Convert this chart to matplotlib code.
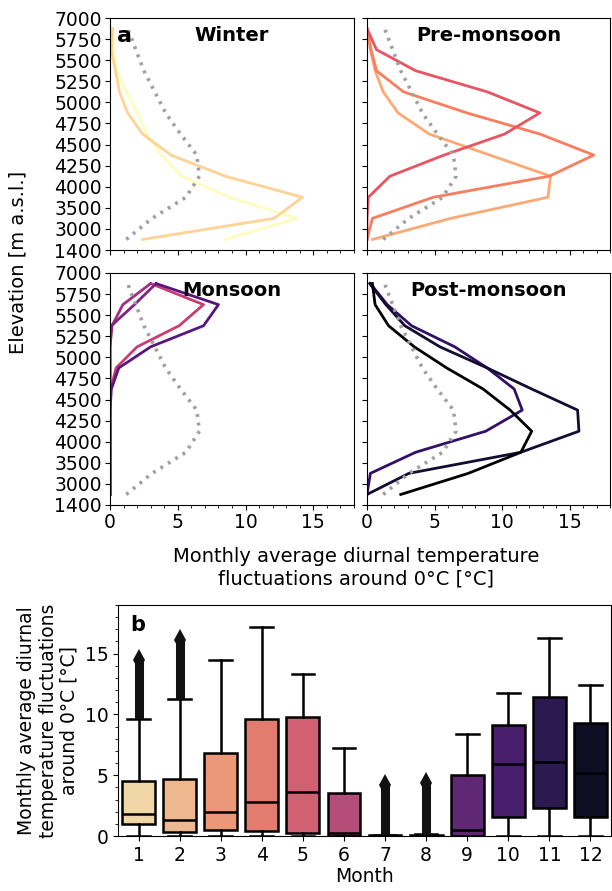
import numpy as np
import matplotlib
matplotlib.use("Agg")
import matplotlib.pyplot as plt
from matplotlib.ticker import MultipleLocator
import seaborn as sns

# elevation bin edges (shown as categorical tick labels)
elev_labels = ["1400", "3000", "3500", "4000", "4250", "4500", "4750",
               "5000", "5250", "5500", "5750", "7000"]

# mean diurnal fluctuation per elevation bin (bottom -> top), all months
all_months = [1.2, 3.1, 5.6, 6.6, 6.4, 5.2, 4.1, 3.3, 2.5, 1.9, 1.3]

# per month, per elevation bin (bottom -> top)
profiles = {
    1: [8.5, 13.8, 8.8, 5.3, 3.8, 2.7, 2.0, 1.2, 0.5, 0.3, 0.2],
    2: [2.4, 12.1, 14.2, 8.5, 4.5, 2.4, 1.3, 0.7, 0.4, 0.1, 0.2],
    3: [0.4, 6.2, 13.4, 13.6, 9.1, 4.6, 2.3, 1.2, 0.6, 0.25, 0.0],
    4: [0.0, 0.4, 4.9, 13.5, 16.8, 12.8, 7.4, 2.7, 0.7, 0.3, 0.0],
    5: [0.0, 0.0, 0.1, 1.7, 5.7, 10.2, 12.8, 8.9, 3.6, 0.7, 0.0],
    6: [0.0, 0.0, 0.0, 0.0, 0.0, 0.05, 0.45, 2.0, 5.1, 6.9, 3.0],
    7: [0.0, 0.0, 0.0, 0.0, 0.0, 0.0, 0.0, 0.0, 0.15, 0.95, 3.0],
    8: [0.0, 0.0, 0.0, 0.0, 0.0, 0.0, 0.0, 0.0, 0.1, 1.8, 3.4],
    9: [0.0, 0.0, 0.0, 0.0, 0.0, 0.1, 0.65, 3.0, 6.9, 8.0, 3.4],
    10: [0.0, 0.25, 3.6, 8.8, 11.5, 10.9, 8.9, 6.5, 3.3, 1.5, 0.25],
    11: [0.0, 3.1, 11.4, 15.7, 15.6, 12.2, 8.9, 5.4, 2.8, 1.4, 0.2],
    12: [2.5, 7.5, 11.4, 12.2, 10.6, 8.6, 5.9, 3.5, 1.6, 0.6, 0.4],
}

seasons = ["Winter", "Pre-monsoon", "Monsoon", "Post-monsoon"]
season_months = [[1, 2], [3, 4, 5], [6, 7, 8, 9], [10, 11, 12]]

# box plot statistics per month
months = list(range(1, 13))
q1 = [1.0, 0.35, 0.5, 0.45, 0.25, 0.0, 0.0, 0.0, 0.0, 1.55, 2.3, 1.6]
med = [1.8, 1.3, 2.0, 2.8, 3.65, 0.25, 0.0, 0.0, 0.5, 5.95, 6.05, 5.2]
q3 = [4.5, 4.7, 6.85, 9.6, 9.8, 3.55, 0.05, 0.08, 5.0, 9.1, 11.4, 9.3]
whislo = [0.0] * 12
whishi = [9.6, 11.3, 14.45, 17.2, 13.3, 7.2, 0.12, 0.15, 8.4, 11.8, 16.3, 12.45]
flier_lo = [9.6, 11.3, None, None, None, None, 0.15, 0.2, None, None, None, None]
flier_hi = [14.5, 16.1, None, None, None, None, 4.2, 4.4, None, None, None, None]

line_colors = plt.cm.magma_r(np.linspace(0, 1, 12))
box_colors = sns.color_palette("magma_r", 12, desat=0.75)

plt.rcParams["font.family"] = "DejaVu Sans"
plt.rcParams["font.size"] = 13.5

fig = plt.figure(figsize=(6.12, 8.91), dpi=100)
W, H = 612.0, 891.0
rects = [
    [110 / W, 1 - 250 / H, 244 / W, 232 / H],
    [367 / W, 1 - 250 / H, 243 / W, 232 / H],
    [110 / W, 1 - 505 / H, 244 / W, 232 / H],
    [367 / W, 1 - 505 / H, 243 / W, 232 / H],
]

ypos = np.arange(len(elev_labels) - 1) + 0.5
for i, (season, mlist) in enumerate(zip(seasons, season_months)):
    ax = fig.add_axes(rects[i])
    for m in mlist:
        ax.plot(profiles[m], ypos, color=line_colors[m - 1], lw=2.0)
    ax.plot(all_months, ypos, color="#a0a0a0", lw=2.6, ls=(0, (0.8, 1.6)))
    ax.set_xlim(0, 18)
    ax.set_ylim(0, len(elev_labels) - 1)
    ax.set_yticks(np.arange(len(elev_labels)))
    ax.xaxis.set_major_locator(MultipleLocator(5))
    ax.xaxis.set_minor_locator(MultipleLocator(1))
    ax.tick_params(axis="both", labelsize=13.5, pad=2.5)
    if i % 2 == 0:
        ax.set_yticklabels(elev_labels)
    else:
        ax.set_yticklabels([])
    if i < 2:
        ax.set_xticklabels([])
    ax.text(0.5, 0.965, season, transform=ax.transAxes, ha="center",
            va="top", fontsize=14, fontweight="bold")
    if i == 0:
        ax.text(0.03, 0.965, "a", transform=ax.transAxes, ha="left",
                va="top", fontsize=16, fontweight="bold")

fig.text(18 / W, 1 - 262 / H, "Elevation [m a.s.l.]", rotation=90,
         ha="center", va="center", fontsize=14)
fig.text(356 / W, 1 - 568 / H,
         "Monthly average diurnal temperature\nfluctuations around 0°C [°C]",
         ha="center", va="center", fontsize=14, multialignment="center")

# panel b
axb = fig.add_axes([118 / W, 1 - 836 / H, 493 / W, 231 / H])
stats = []
for k in range(12):
    fl = []
    if flier_lo[k] is not None:
        fl = [flier_lo[k], flier_hi[k]]
    stats.append(dict(med=med[k], q1=q1[k], q3=q3[k], whislo=whislo[k],
                      whishi=whishi[k], fliers=np.array(fl)))

bp = axb.bxp(stats, positions=months, widths=0.8, capwidths=0.55,
             patch_artist=True, showfliers=True,
             boxprops=dict(edgecolor="black", linewidth=1.8),
             whiskerprops=dict(color="black", linewidth=1.8),
             capprops=dict(color="black", linewidth=1.8),
             medianprops=dict(color="black", linewidth=1.8),
             flierprops=dict(marker="d", markersize=11, color="#111111",
                             markerfacecolor="#111111",
                             markeredgecolor="#111111", markeredgewidth=0,
                             markevery=[1], linestyle="-", linewidth=6.5,
                             solid_capstyle="butt"))
for patch, c in zip(bp["boxes"], box_colors):
    patch.set_facecolor(c)

axb.set_xlim(0.5, 12.5)
axb.set_ylim(0, 19)
axb.yaxis.set_major_locator(MultipleLocator(5))
axb.yaxis.set_minor_locator(MultipleLocator(1))
axb.set_xticks(months)
axb.set_xticklabels([str(m) for m in months])
axb.tick_params(axis="both", labelsize=13.5)
axb.set_xlabel("Month", fontsize=13.5, labelpad=2)
axb.set_ylabel("Monthly average diurnal\ntemperature fluctuations\naround 0°C [°C]",
               fontsize=13.5, linespacing=1.15)
axb.text(0.025, 0.955, "b", transform=axb.transAxes, ha="left", va="top",
         fontsize=15, fontweight="bold")

fig.savefig("out.png", dpi=100)
